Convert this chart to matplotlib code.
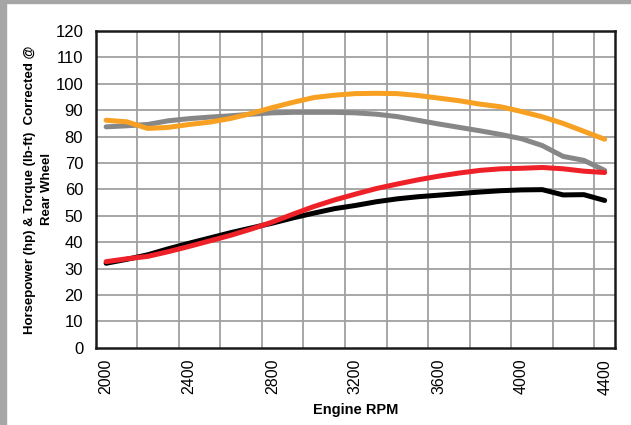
import numpy as np
import matplotlib.pyplot as plt
from matplotlib.patches import Rectangle

# dyno run, one reading every 100 rpm
rpm = np.arange(2000, 4401, 100)
torque_a = [86.2, 85.6, 83.1, 83.5, 84.6, 85.5, 86.9, 88.8, 91.0, 93.0, 94.8, 95.7, 96.3,
            96.4, 96.3, 95.6, 94.6, 93.6, 92.3, 91.3, 89.5, 87.5, 85.0, 82.0, 79.0]
torque_b = [83.7, 84.1, 84.6, 86.0, 86.8, 87.4, 87.9, 88.5, 89.0, 89.2, 89.2, 89.2, 89.0,
            88.5, 87.6, 86.2, 84.8, 83.5, 82.2, 80.8, 79.2, 76.6, 72.5, 71.0, 67.2]
hp_b = [32.0, 33.5, 35.2, 37.5, 39.6, 41.6, 43.6, 45.4, 47.2, 49.2, 51.0, 52.7, 53.9,
        55.3, 56.4, 57.2, 57.8, 58.4, 59.0, 59.5, 59.8, 59.9, 57.9, 58.0, 55.8]
hp_a = [32.6, 33.7, 34.6, 36.4, 38.4, 40.5, 42.6, 45.0, 47.6, 50.6, 53.5, 56.0, 58.2,
        60.3, 62.0, 63.6, 65.0, 66.2, 67.2, 67.8, 68.0, 68.3, 67.8, 66.9, 66.4]

xticks = np.arange(2000, 4401, 400)
yticks = np.arange(0, 121, 10)

plt.rcParams['font.family'] = ['Liberation Sans', 'DejaVu Sans']

fig = plt.figure(figsize=(6.31, 4.25), dpi=100)
ax = fig.add_axes([0.1517, 0.1819, 0.823, 0.745])

# frame bits left over from the page the chart was cut from
fig.patches.append(Rectangle((0, 0), 6 / 631, 1, transform=fig.transFigure,
                             color='#a6a6a6', zorder=0))
fig.patches.append(Rectangle((0, 1 - 3 / 425), 1, 3 / 425, transform=fig.transFigure,
                             color='#a6a6a6', zorder=0))

ax.plot(rpm, hp_b, color='black', lw=3.6, solid_capstyle='round', zorder=3)
ax.plot(rpm, hp_a, color='#ee2128', lw=3.6, solid_capstyle='round', zorder=4)
ax.plot(rpm, torque_b, color='#878787', lw=3.6, solid_capstyle='round', zorder=3)
ax.plot(rpm, torque_a, color='#f7a021', lw=3.6, solid_capstyle='round', zorder=4)

ax.set_xlim(1950, 4450)
ax.set_ylim(0, 120)
ax.set_xticks(xticks)
ax.set_xticklabels([str(v) for v in xticks], rotation=90, fontsize=11.5)
ax.set_yticks(yticks)
ax.tick_params(axis='y', labelsize=12, length=0, pad=9)
ax.tick_params(axis='x', length=0, pad=8)

# gridlines sit between the categories, every 200 rpm
for gx in np.arange(2150, 4400, 200):
    ax.axvline(gx, color='#a0a0a0', lw=1.3, zorder=1)
for gy in yticks[1:-1]:
    ax.axhline(gy, color='#a0a0a0', lw=1.3, zorder=1)

for s in ax.spines.values():
    s.set_linewidth(1.8)
    s.set_color('#1a1a1a')

ax.set_xlabel('Engine RPM', fontsize=10.5, fontweight='bold', labelpad=6)
ax.set_ylabel('Horsepower (hp) & Torque (lb-ft)  Corrected @\nRear Wheel',
              fontsize=9.5, fontweight='bold', labelpad=1.5, linespacing=1.6)

fig.savefig('out.png', dpi=100)
